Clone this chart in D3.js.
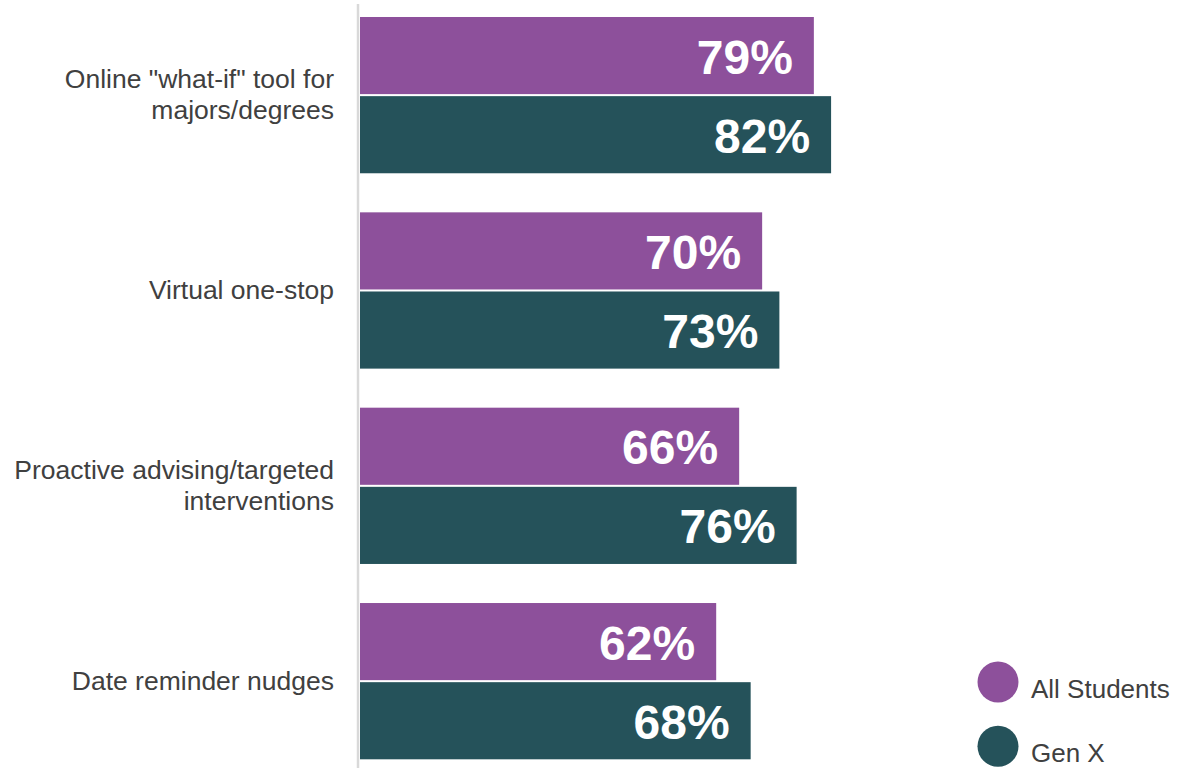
<!DOCTYPE html>
<html>
<head>
<meta charset="utf-8">
<script src="https://cdn.jsdelivr.net/npm/d3@7"></script>
<style>
  html, body { margin: 0; padding: 0; background: #ffffff; }
  svg { display: block; }
</style>
</head>
<body>
<svg id="chart" width="1187" height="768"></svg>
<script>
// Survey items (one group of bars each), label lines as wrapped on the axis
const categories = [
  ["Online \"what-if\" tool for", "majors/degrees"],
  ["Virtual one-stop"],
  ["Proactive advising/targeted", "interventions"],
  ["Date reminder nudges"]
];
const seriesNames = ["All Students", "Gen X"];
const allStudents = [79, 70, 66, 62];
const genX = [82, 73, 76, 68];
const seriesColors = ["#8d509b", "#25525a"];

const svg = d3.select("#chart");
const W = 1187, H = 768;
const x0 = 360;

const catKeys = categories.map((_, i) => i);
const rows = catKeys.map(i => ({
  cat: i,
  values: [allStudents[i], genX[i]]
}));

// Value scale: percent -> horizontal pixels
const x = d3.scaleLinear().domain([0, 100]).range([x0, x0 + 574.5]);

// Group band per category, sub-band per series
const y = d3.scaleBand()
  .domain(catKeys)
  .range([0, 776.3])
  .paddingInner(0.2)
  .paddingOuter(0.087);

const ySub = d3.scaleBand()
  .domain([0, 1])
  .range([0, y.bandwidth()])
  .paddingInner(0.0256)
  .paddingOuter(0);

// Vertical baseline rule
svg.append("line")
  .attr("x1", 358).attr("x2", 358)
  .attr("y1", 4).attr("y2", H)
  .attr("stroke", "#d9d9d9")
  .attr("stroke-width", 2.5);

const groups = svg.selectAll("g.group")
  .data(rows)
  .join("g")
  .attr("class", "group")
  .attr("transform", d => `translate(0,${y(d.cat)})`);

groups.selectAll("rect")
  .data(d => d.values.map((v, s) => ({ v, s })))
  .join("rect")
  .attr("x", x(0))
  .attr("y", d => ySub(d.s))
  .attr("width", d => x(d.v) - x(0))
  .attr("height", ySub.bandwidth())
  .attr("fill", d => seriesColors[d.s]);

groups.selectAll("text.value")
  .data(d => d.values.map((v, s) => ({ v, s })))
  .join("text")
  .attr("class", "value")
  .attr("x", d => x(d.v) - 21)
  .attr("y", d => ySub(d.s) + ySub.bandwidth() / 2 + 18)
  .attr("text-anchor", "end")
  .attr("font-family", "'Liberation Sans', Arial, sans-serif")
  .attr("font-weight", "bold")
  .attr("font-size", 48)
  .attr("fill", "#ffffff")
  .text(d => d.v + "%");

// Category labels, right-aligned against the baseline rule
const lineH = 31;
groups.append("text")
  .attr("class", "cat")
  .attr("text-anchor", "end")
  .attr("font-family", "'Liberation Sans', Arial, sans-serif")
  .attr("font-size", 26.5)
  .attr("fill", "#404040")
  .each(function(d) {
    const lines = categories[d.cat];
    const cy = y.bandwidth() / 2;
    const first = cy + 8.5 - (lines.length - 1) * lineH / 2;
    d3.select(this).selectAll("tspan")
      .data(lines)
      .join("tspan")
      .attr("x", 334)
      .attr("y", (l, i) => first + i * lineH)
      .text(l => l);
  });

// Legend
const legend = svg.append("g").attr("class", "legend");
const legendItems = legend.selectAll("g")
  .data(seriesNames)
  .join("g")
  .attr("transform", (d, i) => `translate(998,${682 + i * 64.3})`);

legendItems.append("circle")
  .attr("r", 20.5)
  .attr("fill", (d, i) => seriesColors[i]);

legendItems.append("text")
  .attr("x", 33)
  .attr("y", 15.5)
  .attr("font-family", "'Liberation Sans', Arial, sans-serif")
  .attr("font-size", 26)
  .attr("fill", "#404040")
  .text(d => d);
</script>
</body>
</html>
